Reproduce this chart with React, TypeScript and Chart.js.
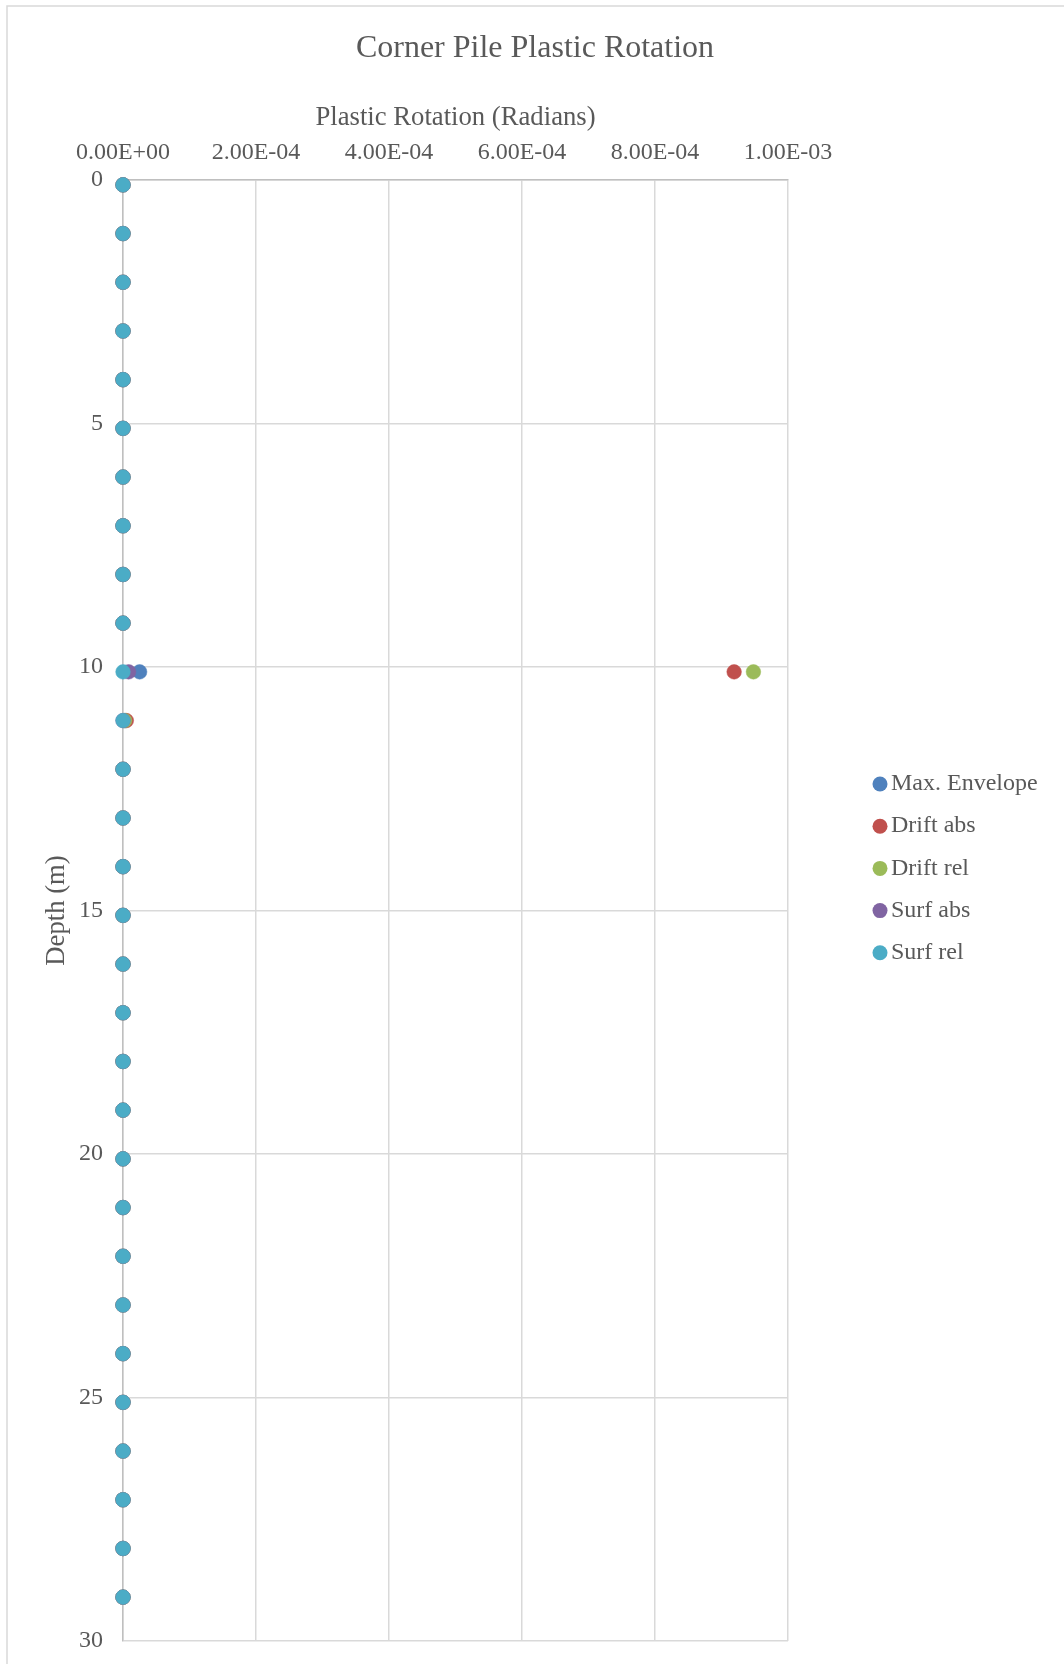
import React, { useEffect, useRef } from "react";
import { Chart, registerables } from "chart.js";

Chart.register(...registerables);

const chartTitle = "Corner Pile Plastic Rotation";
const xAxisTitle = "Plastic Rotation (Radians)";
const yAxisTitle = "Depth (m)";

const depths = [
  0.1, 1.1, 2.1, 3.1, 4.1, 5.1, 6.1, 7.1, 8.1, 9.1,
  10.1, 11.1, 12.1, 13.1, 14.1, 15.1, 16.1, 17.1, 18.1, 19.1,
  20.1, 21.1, 22.1, 23.1, 24.1, 25.1, 26.1, 27.1, 28.1, 29.1,
];

const maxEnvelope = [
  0, 0, 0, 0, 0, 0, 0, 0, 0, 0,
  2.5e-5, 3e-6, 0, 0, 0, 0, 0, 0, 0, 0,
  0, 0, 0, 0, 0, 0, 0, 0, 0, 0,
];
const driftAbs = [
  0, 0, 0, 0, 0, 0, 0, 0, 0, 0,
  9.19e-4, 5e-6, 0, 0, 0, 0, 0, 0, 0, 0,
  0, 0, 0, 0, 0, 0, 0, 0, 0, 0,
];
const driftRel = [
  0, 0, 0, 0, 0, 0, 0, 0, 0, 0,
  9.48e-4, 2.5e-6, 0, 0, 0, 0, 0, 0, 0, 0,
  0, 0, 0, 0, 0, 0, 0, 0, 0, 0,
];
const surfAbs = [
  0, 0, 0, 0, 0, 0, 0, 0, 0, 0,
  8.5e-6, 0, 0, 0, 0, 0, 0, 0, 0, 0,
  0, 0, 0, 0, 0, 0, 0, 0, 0, 0,
];
const surfRel = [
  0, 0, 0, 0, 0, 0, 0, 0, 0, 0,
  0, 0, 0, 0, 0, 0, 0, 0, 0, 0,
  0, 0, 0, 0, 0, 0, 0, 0, 0, 0,
];

const seriesNames = ["Max. Envelope", "Drift abs", "Drift rel", "Surf abs", "Surf rel"];
const seriesValues = [maxEnvelope, driftAbs, driftRel, surfAbs, surfRel];
const seriesColors = ["#4F81BD", "#C0504D", "#9BBB59", "#8064A2", "#4BACC6"];

const xMin = 0;
const xMax = 0.001;
const xStep = 0.0002;
const yMin = 0;
const yMax = 30;
const yStep = 5;

const FONT = "'Liberation Serif', 'Times New Roman', serif";
const TEXT = "#595959";

function fmtSci(v: number): string {
  if (Math.abs(v) < 1e-12) return "0.00E+00";
  const [m, e] = v.toExponential(2).split("e");
  const sign = e[0] === "-" ? "-" : "+";
  const digits = e.replace(/^[+-]/, "").padStart(2, "0");
  return `${m}E${sign}${digits}`;
}

const framePlugin = {
  id: "frameAndTexts",
  beforeDraw(chart: any) {
    const { ctx, width, height } = chart;
    ctx.save();
    ctx.fillStyle = "#ffffff";
    ctx.fillRect(0, 0, width, height);
    ctx.strokeStyle = "#d9d9d9";
    ctx.lineWidth = 1.5;
    ctx.beginPath();
    ctx.moveTo(7, height);
    ctx.lineTo(7, 6);
    ctx.lineTo(width, 6);
    ctx.stroke();
    ctx.restore();
  },
  afterDraw(chart: any) {
    const { ctx } = chart;
    ctx.save();
    ctx.fillStyle = TEXT;
    ctx.textAlign = "center";
    ctx.textBaseline = "middle";
    ctx.font = `32px ${FONT}`;
    ctx.fillText(chartTitle, 535, 49);

    // legend
    ctx.font = `24px ${FONT}`;
    ctx.textAlign = "left";
    const startY = 784;
    const gap = 42.2;
    seriesNames.forEach((name, i) => {
      const y = startY + i * gap;
      ctx.beginPath();
      ctx.fillStyle = seriesColors[i];
      ctx.arc(880, y, 7.5, 0, Math.PI * 2);
      ctx.fill();
      ctx.fillStyle = TEXT;
      ctx.fillText(name, 891, y);
    });
    ctx.restore();
  },
};

export default function App() {
  const ref = useRef<HTMLCanvasElement | null>(null);

  useEffect(() => {
    if (!ref.current) return;
    const datasets = seriesNames.map((name, i) => ({
      label: name,
      data: depths.map((d, k) => ({ x: seriesValues[i][k], y: d })),
      backgroundColor: seriesColors[i],
      borderColor: seriesColors[i],
      pointRadius: 7.3,
      pointBorderWidth: 0.5,
      pointHoverRadius: 7.3,
      showLine: false,
      clip: false as any,
      order: seriesNames.length - i,
    }));

    const chart = new Chart(ref.current, {
      type: "scatter",
      data: { datasets },
      plugins: [framePlugin],
      options: {
        animation: false,
        responsive: false,
        devicePixelRatio: 1,
        layout: { padding: { left: 0, top: 0, right: 276, bottom: 23 } },
        plugins: {
          legend: { display: false },
          title: { display: false },
          tooltip: { enabled: false },
        },
        scales: {
          x: {
            type: "linear",
            position: "top",
            min: xMin,
            max: xMax,
            afterFit(scale: any) {
              scale.height = 180;
              scale.paddingLeft = 0;
              scale.paddingRight = 0;
            },
            ticks: {
              stepSize: xStep,
              padding: 13,
              color: TEXT,
              font: { family: FONT, size: 24 },
              callback: (v: any) => fmtSci(Number(v)),
              maxRotation: 0,
              autoSkip: false,
            },
            grid: { color: "#d9d9d9", lineWidth: 1.5, drawTicks: false },
            border: { color: "#bfbfbf", width: 1.5 },
            title: {
              display: true,
              text: xAxisTitle,
              color: TEXT,
              font: { family: FONT, size: 26.7, lineHeight: 1.2 },
              padding: { top: 102, bottom: 0 },
            },
          },
          y: {
            type: "linear",
            reverse: true,
            min: yMin,
            max: yMax,
            afterFit(scale: any) {
              scale.width = 123;
              scale.paddingTop = 0;
              scale.paddingBottom = 0;
            },
            ticks: {
              stepSize: yStep,
              padding: 20,
              color: TEXT,
              font: { family: FONT, size: 24 },
            },
            grid: { color: "#d9d9d9", lineWidth: 1.5, drawTicks: false },
            border: { color: "#bfbfbf", width: 1.5 },
            title: {
              display: true,
              text: yAxisTitle,
              color: TEXT,
              font: { family: FONT, size: 26.7, lineHeight: 1.2 },
              padding: { top: 41, bottom: 0 },
            },
          },
        },
      } as any,
    });
    return () => chart.destroy();
  }, []);

  return (
    <div style={{ position: "absolute", left: 0, top: 0, width: 1064, height: 1664 }}>
      <canvas ref={ref} width={1064} height={1664} style={{ display: "block" }} />
    </div>
  );
}
